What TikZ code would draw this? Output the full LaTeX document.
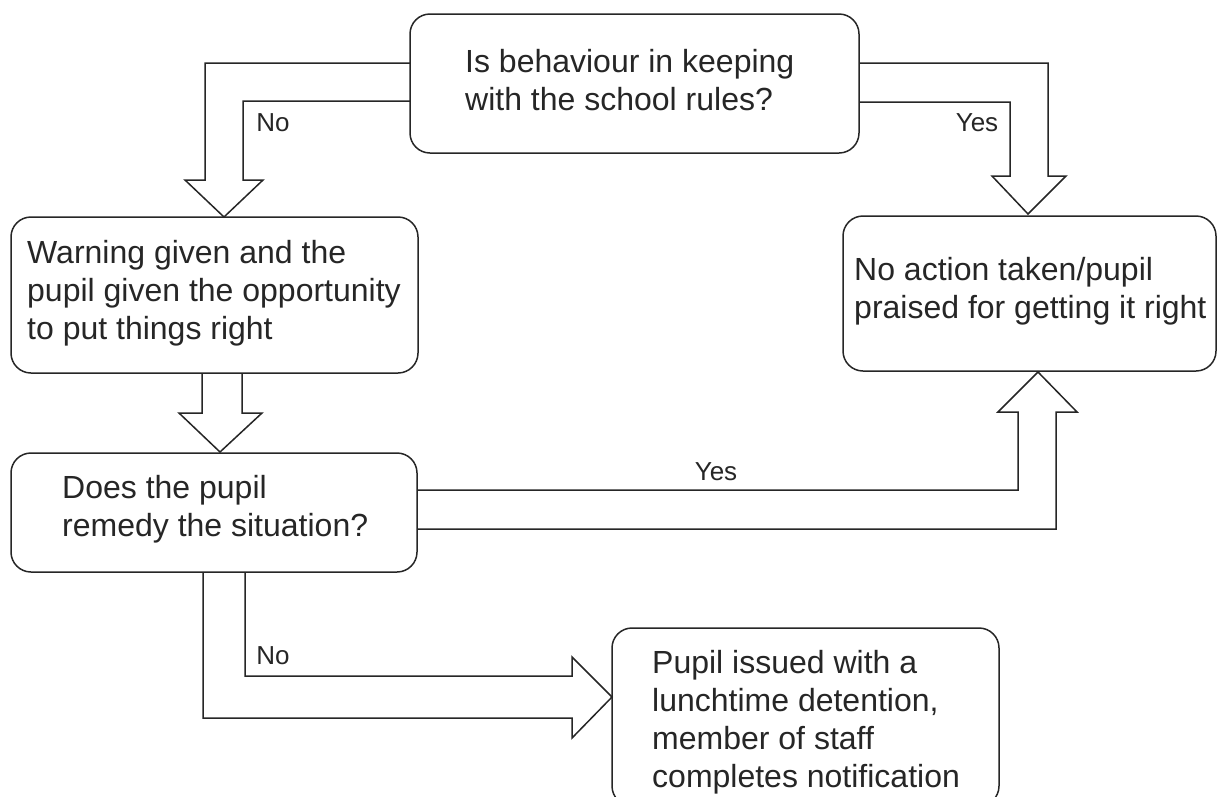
\documentclass[tikz,border=0pt]{standalone}
\usepackage{fontspec}
\setmainfont{Liberation Sans}
\definecolor{ink}{HTML}{262626}
\begin{document}
\begin{tikzpicture}[x=1pt,y=-1pt,
  box/.style={draw=ink, line width=1.5pt, rounded corners=20pt, inner sep=0pt, outer sep=0pt},
  txt/.style={text=ink, inner sep=0pt, align=left, font=\fontsize{32}{38}\selectfont},
  lbl/.style={text=ink, inner sep=0pt, font=\fontsize{26}{30}\selectfont},
  arr/.style={draw=ink, line width=1.5pt, line join=miter}]
\useasboundingbox (0,0) rectangle (1217,796);
\clip (0,0) rectangle (1217,796);
\fill[white] (0,0) rectangle (1217,796);
% boxes
\node[box, minimum width=449, minimum height=139] (q1) at (634.5,83.5) {};
\node[box, minimum width=407, minimum height=156] (warn) at (214.5,295) {};
\node[box, minimum width=406, minimum height=119] (rem) at (214,512.5) {};
\node[box, minimum width=373, minimum height=155] (praise) at (1029.5,293.5) {};
\node[box, minimum width=387, minimum height=178] (det) at (805.5,717) {};
% texts (base anchor = baseline of the last line)
\node[txt, anchor=base west] (q1t) at (465,110) {Is behaviour in keeping\\with the school rules?};
\node[txt, anchor=base west] (warnt) at (27,339) {Warning given and the\\pupil given the opportunity\\to put things right};
\node[txt, anchor=base west] (remt) at (62,536) {Does the pupil\\remedy the situation?};
\node[txt, anchor=base west] (praiset) at (854,318) {No action taken/pupil\\praised for getting it right};
\node[txt, anchor=base west] (dett) at (652,787) {Pupil issued with a\\lunchtime detention,\\member of staff\\completes notification};
% block arrows
\coordinate (tipA) at (224,217);
\draw[arr] ([yshift=20.5]q1.west) -| (205,180) -- (185,180) -- (tipA) -- (263,180) -- (243,180) |- ([yshift=-17.5]q1.west);
\coordinate (tipB) at (1028,214);
\draw[arr] ([yshift=20.5]q1.east) -| (1048,176) -- (1066,176) -- (tipB) -- (992,176) -- (1010,176) |- ([yshift=-18.5]q1.east);
\coordinate (tipC) at (220,452);
\draw[arr] (202,373) -- (202,413) -- (179,413) -- (tipC) -- (262,413) -- (242,413) -- (242,373);
\coordinate (tipD) at (1038,372);
\draw[arr] ([yshift=22.5]rem.east) -| (1018,412) -- (998,412) -- (tipD) -- (1077,412) -- (1056,412) |- ([yshift=-16.5]rem.east);
\coordinate (tipE) at (612,697);
\draw[arr] (245,572) |- (572,676) -- (572,657) -- (tipE) -- (572,738) -- (572,718) -| (203,572);
% labels
\node[lbl] (noA) at (273,123) {No};
\node[lbl] (yesB) at (977,123) {Yes};
\node[lbl] (yesD) at (716,472) {Yes};
\node[lbl] (noE) at (273,656) {No};
\end{tikzpicture}
\end{document}
